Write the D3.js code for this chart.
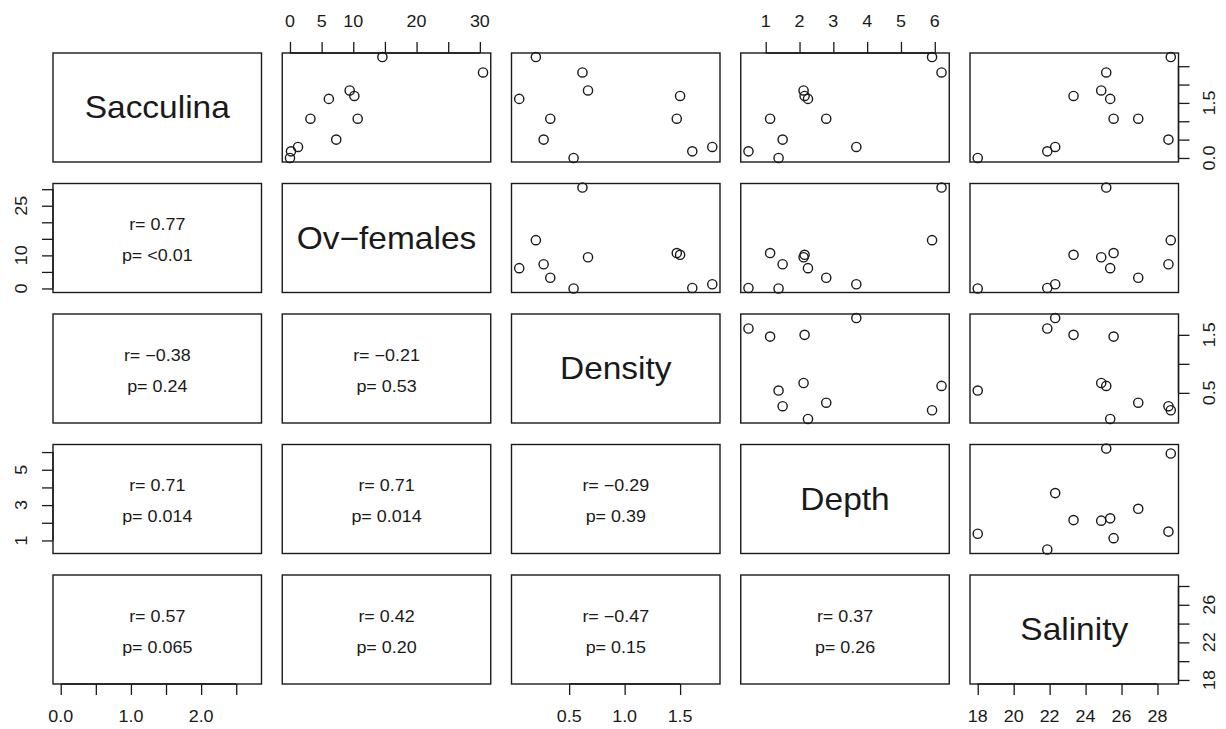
<!DOCTYPE html>
<html><head><meta charset="utf-8">
<script src="https://cdn.jsdelivr.net/npm/d3@7/dist/d3.min.js"></script>
<style>body{margin:0;background:#fff}svg{display:block;font-family:"Liberation Sans",Arial,sans-serif}</style>
</head><body><svg id="c" width="1226" height="729"></svg>
<script>
const varNames = ["Sacculina", "Ov\u2212females", "Density", "Depth", "Salinity"];
const sacculina = [0.0, 0.18, 0.30, 1.69, 1.84, 2.33, 1.61, 1.07, 1.07, 0.50, 2.75];
const ovFemales = [0.0, 0.16, 1.27, 10.17, 9.43, 30.5, 6.14, 10.7, 3.23, 7.31, 14.6];
const density   = [0.54, 1.61, 1.79, 1.50, 0.67, 0.62, 0.05, 1.47, 0.33, 0.27, 0.20];
const depth     = [1.38, 0.49, 3.68, 2.15, 2.12, 6.2, 2.25, 1.13, 2.79, 1.5, 5.92];
const salinity  = [18.0, 21.87, 22.31, 23.33, 24.87, 25.15, 25.37, 25.56, 26.93, 28.61, 28.74];
// correlation labels for lower panels ([row, col])
const corrPairs = [[1,0],[2,0],[2,1],[3,0],[3,1],[3,2],[4,0],[4,1],[4,2],[4,3]];
const rLabels = ["r= 0.77","r= \u22120.38","r= \u22120.21","r= 0.71","r= 0.71","r= \u22120.29","r= 0.57","r= 0.42","r= \u22120.47","r= 0.37"];
const pLabels = ["p= <0.01","p= 0.24","p= 0.53","p= 0.014","p= 0.014","p= 0.39","p= 0.065","p= 0.20","p= 0.15","p= 0.26"];
// tick values and tick labels
const tickVals = [
  [0,0.5,1,1.5,2,2.5],
  [0,5,10,15,20,25,30],
  [0.5,1,1.5],
  [1,2,3,4,5,6],
  [18,20,22,24,26,28]
];
const xTickLabels = [
  ["0.0","","1.0","","2.0",""],
  ["0","5","10","","20","","30"],
  ["0.5","1.0","1.5"],
  ["1","2","3","4","5","6"],
  ["18","20","22","24","26","28"]
];
const yTickLabels = [
  ["0.0","","","1.5","",""],
  ["0","","10","","","25",""],
  ["0.5","","1.5"],
  ["1","","3","","5",""],
  ["18","","22","","26",""]
];

const data = [sacculina, ovFemales, density, depth, salinity];
const n = data.length;
const svg = d3.select("#c");
const L = 53, T = 53, PW = 208.5, PH = 109, PX = 229.25, PY = 130.5;
const SX = 1.12; // horizontal text stretch
const ext = v => { const [a,b] = d3.extent(v); const e = (b-a)*0.04; return [a-e, b+e]; };
const xs = data.map(v => d3.scaleLinear().domain(ext(v)).range([0, PW]));
const ys = data.map(v => d3.scaleLinear().domain(ext(v)).range([PH, 0]));
const ink = "#1a1a1a";

function stretchedText(g, x, y, size, txt, sx) {
  g.append("g").attr("transform", `translate(${x},${y}) scale(${sx},1)`)
    .append("text").attr("text-anchor","middle").attr("dominant-baseline","central")
    .attr("font-size", size).attr("fill", ink).text(txt);
}

for (let r = 0; r < n; r++) {
  for (let c = 0; c < n; c++) {
    const g = svg.append("g").attr("transform", `translate(${L + c*PX},${T + r*PY})`);
    if (r === c) {
      stretchedText(g, PW/2, PH/2, 31, varNames[r], 1.08);
    } else if (r < c) {
      g.selectAll("circle").data(d3.range(data[0].length)).join("circle")
        .attr("cx", i => xs[c](data[c][i])).attr("cy", i => ys[r](data[r][i]))
        .attr("r", 4.6).attr("fill","none").attr("stroke", ink).attr("stroke-width", 1.4);
    } else {
      const k = corrPairs.findIndex(p => p[0] === r && p[1] === c);
      stretchedText(g, PW/2, PH/2 - 13, 16, rLabels[k], SX);
      stretchedText(g, PW/2, PH/2 + 18, 16, pLabels[k], SX);
    }
    g.append("rect").attr("x",0).attr("y",0).attr("width",PW).attr("height",PH)
      .attr("fill","none").attr("stroke", ink).attr("stroke-width", 1.4);

    if (c % 2 === 0 && r === n-1) {
      const ax = d3.axisBottom(xs[c]).tickValues(tickVals[c]).tickSize(11).tickSizeOuter(0).tickFormat(() => "");
      const ag = g.append("g").attr("transform", `translate(0,${PH})`).call(ax);
      styleAxis(ag, xs[c], tickVals[c], "h");
      tickVals[c].forEach((t,i) => { if (xTickLabels[c][i]) stretchedText(ag, xs[c](t), 33, 16, xTickLabels[c][i], SX); });
    }
    if (c % 2 === 1 && r === 0) {
      const ax = d3.axisTop(xs[c]).tickValues(tickVals[c]).tickSize(11).tickSizeOuter(0).tickFormat(() => "");
      const ag = g.append("g").call(ax);
      styleAxis(ag, xs[c], tickVals[c], "h");
      tickVals[c].forEach((t,i) => { if (xTickLabels[c][i]) stretchedText(ag, xs[c](t), -31, 16, xTickLabels[c][i], SX); });
    }
    if (r % 2 === 0 && c === n-1) {
      const ax = d3.axisRight(ys[r]).tickValues(tickVals[r]).tickSize(11).tickSizeOuter(0).tickFormat(() => "");
      const ag = g.append("g").attr("transform", `translate(${PW},0)`).call(ax);
      styleAxis(ag, ys[r], tickVals[r], "v");
      tickVals[r].forEach((t,i) => { if (yTickLabels[r][i])
        ag.append("g").attr("transform", `translate(31,${ys[r](t)}) rotate(-90) scale(${SX},1)`)
          .append("text").attr("text-anchor","middle").attr("dominant-baseline","central")
          .attr("font-size", 16).attr("fill", ink).text(yTickLabels[r][i]); });
    }
    if (r % 2 === 1 && c === 0) {
      const ax = d3.axisLeft(ys[r]).tickValues(tickVals[r]).tickSize(11).tickSizeOuter(0).tickFormat(() => "");
      const ag = g.append("g").call(ax);
      styleAxis(ag, ys[r], tickVals[r], "v");
      tickVals[r].forEach((t,i) => { if (yTickLabels[r][i])
        ag.append("g").attr("transform", `translate(-31,${ys[r](t)}) rotate(-90) scale(${SX},1)`)
          .append("text").attr("text-anchor","middle").attr("dominant-baseline","central")
          .attr("font-size", 16).attr("fill", ink).text(yTickLabels[r][i]); });
    }
  }
}
function styleAxis(ag, sc, tv, dir) {
  ag.select(".domain").remove();
  const a = sc(tv[0]), b = sc(tv[tv.length-1]);
  ag.append("line").attr(dir === "h" ? "x1" : "y1", a).attr(dir === "h" ? "x2" : "y2", b)
    .attr("stroke", ink).attr("stroke-width", 1.4);
  ag.selectAll(".tick line").attr("stroke", ink).attr("stroke-width", 1.3);
}
</script></body></html>
